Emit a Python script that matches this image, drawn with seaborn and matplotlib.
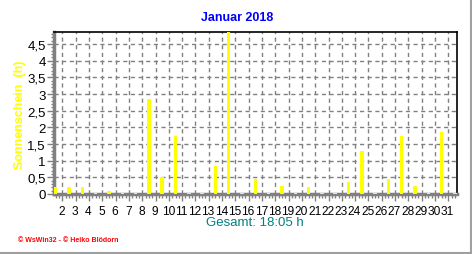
import matplotlib
matplotlib.use("Agg")
import matplotlib.pyplot as plt
import seaborn as sns
import numpy as np
import pandas as pd
from matplotlib.ticker import MultipleLocator, FixedLocator
from matplotlib.lines import Line2D

days = list(range(1, 32))
sunshine = [0.2, 0.2, 0.2, 0.02, 0.1, 0.02, 0.02, 2.85, 0.5, 1.75,
            0.02, 0.02, 0.85, 4.9, 0.02, 0.45, 0.02, 0.25, 0.02, 0.2,
            0.02, 0.02, 0.35, 1.3, 0.02, 0.45, 1.75, 0.25, 0.02, 1.85, 0.02]
tick_labels = [str(d) for d in range(2, 32)]
title = "Januar 2018"
ylabel = "Sonnenschein  (h)"
xlabel = "Gesamt: 18:05 h"
footer = "\u00a9 WsWin32 - \u00a9 Heiko Blödorn"

sns.set_theme(style="white")
plt.rcParams['font.family'] = ['Liberation Sans', 'DejaVu Sans']

W, H = 472, 255
fig = plt.figure(figsize=(W / 100, H / 100), dpi=100)
fig.patch.set_facecolor("white")
ax = fig.add_axes([54 / W, 1 - 195 / H, (457 - 54) / W, (195 - 33) / H])

df = pd.DataFrame({"pos": np.arange(len(days)), "val": sunshine})
sns.barplot(data=df, x="pos", y="val", native_scale=True, width=0.26,
            color="#ffff00", saturation=1, edgecolor="none", linewidth=0, ax=ax, zorder=3)
for p in ax.patches:
    p.set_antialiased(False)

ax.set_xlim(-0.13, 30.15)
ax.set_ylim(0, 4.86)
ax.set_facecolor("white")

ax.set_xticks(np.arange(0.5, 30.5, 1.0))
ax.set_xticklabels([])
ax.yaxis.set_major_locator(MultipleLocator(0.5))
ax.grid(True, color="#808080", linestyle=(0, (3, 2.5)), linewidth=1, zorder=0)
ax.set_axisbelow(True)

ax.xaxis.set_minor_locator(FixedLocator(np.arange(0.0, 30.2, 0.25)))
ax.yaxis.set_minor_locator(MultipleLocator(0.1))
ax.tick_params(axis="x", which="major", direction="out", length=5, width=1, color="#808080", bottom=True)
ax.tick_params(axis="x", which="minor", direction="out", length=3, width=1, color="#808080", bottom=True)
ax.tick_params(axis="y", which="major", direction="out", length=5, width=1, color="#808080", left=True,
               labelsize=9.5, pad=1, labelcolor="black")
ax.tick_params(axis="y", which="minor", direction="out", length=2, width=1, color="#808080", left=True)

ax.set_yticks(np.arange(0, 4.51, 0.5))
ax.set_yticklabels([("%g" % v).replace(".", ",") for v in np.arange(0, 4.51, 0.5)])

# x labels placed between bars (day boundaries)
for i, lab in enumerate(tick_labels):
    ax.text(i + 0.45, -0.33, lab, ha="center", va="top", fontsize=8.6, color="black",
            transform=ax.transData, clip_on=False)

for s in ["top", "right"]:
    ax.spines[s].set_color("black")
    ax.spines[s].set_linewidth(1.2)
for s in ["left", "bottom"]:
    ax.spines[s].set_color("#808080")
    ax.spines[s].set_linewidth(2.5)

ax.set_xlabel("")
ax.set_ylabel("")

fig.text(237 / W, 1 - 18 / H, title, ha="center", va="center", color="#0000ff",
         fontsize=9, fontweight="bold")
fig.text(20 / W, 1 - 115 / H, ylabel, ha="center", va="center", rotation=90,
         color="#ffff00", fontsize=9, fontweight="bold")
fig.text(255 / W, 1 - 223 / H, xlabel, ha="center", va="center", color="#008080", fontsize=9.5)
fig.text(18 / W, 1 - 241 / H, footer, ha="left", va="center", color="#ff0000",
         fontsize=5, fontweight="bold")

# image border (right and bottom)
fig.add_artist(Line2D([0, 1], [1.5 / H, 1.5 / H], transform=fig.transFigure, color="#a0a0a0", lw=1.5))
fig.add_artist(Line2D([1 - 1.5 / W, 1 - 1.5 / W], [0, 1], transform=fig.transFigure, color="#a0a0a0", lw=1.5))

fig.savefig("out.png", dpi=100, facecolor="white")
